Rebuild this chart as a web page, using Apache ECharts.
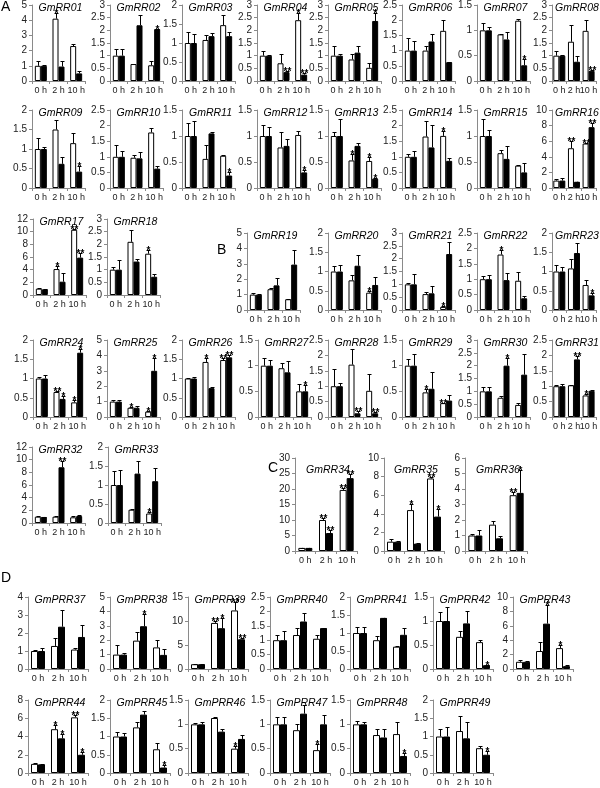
<!DOCTYPE html>
<html><head><meta charset="utf-8">
<script src="https://cdn.jsdelivr.net/npm/echarts@6/dist/echarts.min.js"></script>
<style>html,body{margin:0;padding:0;background:#fff}#c{width:600px;height:788px}</style>
</head><body><div id="c"></div>
<script>
const categories = ['0 h', '2 h', '10 h'];
const genes = ['GmRR01','GmRR02','GmRR03','GmRR04','GmRR05','GmRR06','GmRR07','GmRR08',
 'GmRR09','GmRR10','GmRR11','GmRR12','GmRR13','GmRR14','GmRR15','GmRR16',
 'GmRR17','GmRR18','GmRR19','GmRR20','GmRR21','GmRR22','GmRR23',
 'GmRR24','GmRR25','GmRR26','GmRR27','GmRR28','GmRR29','GmRR30','GmRR31',
 'GmRR32','GmRR33','GmRR34','GmRR35','GmRR36',
 'GmPRR37','GmPRR38','GmPRR39','GmPRR40','GmPRR41','GmPRR42','GmPRR43',
 'GmPRR44','GmPRR45','GmPRR46','GmPRR47','GmPRR48','GmPRR49'];
const yMax  = [5,3,2,3,3,2.5,1.5,3, 2,2.5,1.5,1.5,1.5,2.5,1.5,10, 12,3,5,2,3,2.5,2, 2,5,2,1.5,2.5,1.5,3,2.5, 12,2,30,10,6, 4,5,15,2.5,2,1.5,10, 8,2,1.5,1.5,1.5,2];
const yStep = [1,0.5,0.5,0.5,0.5,0.5,0.5,0.5, 0.5,0.5,0.5,0.5,0.5,0.5,0.5,2, 2,0.5,1,0.5,0.5,0.5,0.5, 0.5,1,0.5,0.5,0.5,0.5,0.5,0.5, 2,0.5,5,2,1, 1,1,5,0.5,0.5,0.5,2, 2,0.5,0.5,0.5,0.5,0.5];
const whiteMean = [
 [1,4.1,2.3],[1,0.67,0.62],[1,1.08,1.47],[1,0.7,2.4],[1,0.85,0.52],[1,1,1.65],[1,0.92,1.19],[1,1.55,1.98],
 [1,1.5,1.15],[1,0.97,1.78],[1,0.56,0.62],[1,0.78,1.02],[1,0.53,0.52],[1,1.65,1.67],[1,0.67,0.43],[0.95,5.1,5.7],
 [1,4.1,10.3],[1,2.1,1.63],[1,1.35,0.7],[1,0.77,0.45],[1,0.62,0.12],[1,1.8,0.95],[1,1.08,0.65],
 [1,0.65,0.38],[1,0.6,0.35],[1,1.43,1.48],[1,0.95,0.5],[1,1.7,0.85],[1,0.48,0.27],[1,0.75,0.47],[1,1.03,0.7],
 [1,1,0.9],[1,0.35,0.25],[1,10,19.7],[1,4.4,7.8],[1,1.7,3.6],
 [1,1.28,1.08],[1,1.97,1.5],[1,9.6,12.2],[1,1.18,1.05],[1,0.8,0.62],[1,0.67,0.56],[1,2.5,2.9],
 [1,4.8,6.1],[1,1.25,0.65],[1,1.13,0.5],[1,0.88,0.47],[1,0.78,0.8],[1,1.15,0.68]];
const whiteUpper = [
 [1.3,4.5,2.45],[1.25,0.67,0.8],[1.3,1.2,1.74],[1.17,1.07,2.7],[1.4,1.05,0.72],[1.42,1.15,2.0],[1.15,0.93,1.23],[1.17,2.2,2.4],
 [1.27,1.75,1.42],[1.37,1.05,1.92],[1.25,0.83,0.63],[1.21,1.08,1.1],[1.07,0.65,0.6],[1.1,2.15,1.82],[1.32,0.73,0.45],[1.1,6.0,5.8],
 [1.1,4.6,10.5],[1.1,2.55,1.77],[1.12,1.45,0.72],[1.15,0.9,0.5],[1.07,0.72,0.15],[1.1,1.95,1.25],[1.18,1.33,0.78],
 [1.03,0.68,0.45],[1.08,0.63,0.38],[1.02,1.52,1.52],[1.15,1.05,0.65],[1.57,2.2,1.4],[1.13,0.55,0.28],[1.15,0.82,0.55],[1.03,1.05,0.75],
 [1.1,1.1,1.1],[1.37,0.36,0.3],[1.1,10.5,20.2],[1.3,5.1,8.0],[1.08,1.95,3.8],
 [1.07,1.75,1.17],[1.68,2.55,2.02],[1.1,9.9,14],[1.18,1.43,1.17],[1.17,0.93,0.65],[1.18,0.8,0.6],[1.2,3.7,3.3],
 [1.05,5.3,6.4],[1.12,1.4,0.82],[1.03,1.15,0.55],[1.15,1.0,0.6],[1.07,0.9,1.05],[1.2,1.55,0.75]];
const blackMean = [
 [1,0.95,0.5],[1,2.2,2.05],[1,1.18,1.18],[1,0.35,0.25],[1,1.12,2.37],[1,1.3,0.62],[1,0.82,0.31],[1,0.76,0.4],
 [1,0.62,0.42],[1,0.95,0.62],[1,1.05,0.24],[1,0.81,0.3],[1,0.81,0.18],[1,1.3,0.87],[1,0.56,0.3],[0.95,0.8,7.8],
 [0.9,2.1,5.9],[1,1.32,0.72],[1,1.6,2.95],[1,1.15,0.65],[1,0.65,2.18],[1,0.97,0.38],[1,1.48,0.38],
 [1,0.47,1.67],[1,0.6,3.0],[1,0.75,1.55],[1,0.87,0.5],[1,0.12,0.12],[1,0.55,0.32],[1,2.0,1.65],[1,1.87,0.85],
 [0.95,8.8,1.1],[1,1.3,1.1],[1,5.8,23.5],[1,0.8,3.7],[1,0.82,3.75],
 [1,2.35,1.78],[1,2.97,0.98],[1,8.5,6.2],[1,1.65,1.42],[1,1.42,0.95],[1,0.95,0.08],[1,6.3,0.4],
 [0.95,3.8,2.0],[1,1.6,0.15],[1,0.85,0.7],[1,1.22,1.0],[1,0.73,0.35],[1,0.95,0.5]];
const blackUpper = [
 [1.02,1.3,0.65],[1.25,2.6,2.07],[1.25,1.27,1.3],[1.02,0.4,0.3],[1.08,1.4,2.68],[1.32,1.55,0.63],[1.06,0.97,0.43],[1.03,1.0,0.45],
 [1.05,0.8,0.57],[1.2,1.15,0.72],[1.28,1.08,0.3],[1.18,0.95,0.35],[1.32,0.86,0.19],[1.2,2.02,0.95],[1.12,0.8,0.48],[1.3,0.82,8.3],
 [0.95,3.5,6.7],[1.37,1.42,0.83],[1.05,2.05,3.9],[1.17,1.43,0.87],[1.42,0.95,2.65],[1.15,1.2,0.45],[1.12,1.75,0.45],
 [1.1,0.55,1.77],[1.1,0.72,3.85],[1.03,0.78,1.62],[1.12,1.1,0.62],[1.1,0.2,0.16],[1.22,0.88,0.43],[1.15,2.3,2.45],[1.07,1.98,0.87],
 [0.97,9.8,1.3],[1.4,1.63,1.45],[1.05,6.8,25],[1.05,0.82,4.5],[1.35,0.95,5.2],
 [1.17,3.3,2.42],[1.13,3.8,1.42],[1.05,10.7,6.5],[1.32,1.95,1.43],[1.17,1.43,1.13],[1.3,1.2,0.09],[1.05,8.9,0.6],
 [1.0,4.3,2.3],[1.1,1.7,0.22],[1.05,0.9,0.78],[1.15,1.4,1.2],[1.05,0.9,0.42],[1.25,1.4,0.6]];
const whiteSig = [
 ['','*',''],['','',''],['','',''],['','','*'],['','',''],['','',''],['','',''],['','',''],
 ['','',''],['','',''],['','',''],['','',''],['','*','*'],['','','*'],['','',''],['','**','**'],
 ['','*','**'],['','','*'],['','',''],['','','*'],['','','*'],['','*',''],['','',''],
 ['','**','*'],['','*','*'],['','*','**'],['','',''],['','',''],['','*','**'],['','',''],['','','*'],
 ['','',''],['','','*'],['','**','**'],['','*','**'],['','','**'],
 ['','',''],['','',''],['','**','**'],['','',''],['','',''],['','',''],['','','*'],
 ['','*','**'],['','',''],['','','*'],['','','*'],['','',''],['','','']];
const blackSig = [
 ['','',''],['','','*'],['','',''],['','**','**'],['','','*'],['','',''],['','','*'],['','','**'],
 ['','','*'],['','',''],['','','*'],['','','*'],['','','*'],['','',''],['','',''],['','','**'],
 ['','','**'],['','',''],['','',''],['','',''],['','',''],['','',''],['','','*'],
 ['','*','*'],['','','*'],['','','**'],['','','*'],['','**','**'],['','',''],['','*',''],['','**',''],
 ['','**',''],['','',''],['','**','**'],['','','*'],['','','*'],
 ['','',''],['','*',''],['','*','**'],['','',''],['','',''],['','','*'],['','*',''],
 ['','*','*'],['','','*'],['','',''],['','',''],['','','*'],['','','*']];

// ---- layout (positions only) ----
const rowSpecs = [
 {top:5,   h:76, lefts:[32,110,182,257,328,402,477,552], widths:[53,53,53,53,53,53,53,46], bw:6, tdy:3},
 {top:110, h:78, lefts:[32,110,182,257,328,402,477,552], widths:[53,53,53,53,53,53,53,46], bw:6, tdy:3},
 {top:219, h:76, lefts:[33,107], widths:[53,53], bw:6, tdy:3},
 {top:233, h:77, lefts:[247,328,402,477,552], widths:[53,53,53,53,46], bw:6, tdy:3},
 {top:340, h:77, lefts:[33,107,182,258,328,402,477,552], widths:[53,53,53,53,53,53,53,46], bw:6, tdy:3},
 {top:447, h:76, lefts:[32,108], widths:[53,53], bw:6, tdy:3},
 {top:458, h:93, lefts:[295,384,465], widths:[62,60,62], bw:7, tdy:12},
 {top:597, h:72, lefts:[28,110,188,270,350,433,513], widths:[60,60,60,60,60,60,60], bw:7, tdy:3},
 {top:700, h:73, lefts:[28,110,188,270,350,433], widths:[60,60,60,60,60,60], bw:7, tdy:3}
];
const panels = [];
rowSpecs.forEach(r => r.lefts.forEach((l, k) => panels.push({left:l, top:r.top, width:r.widths[k], height:r.h, bw:r.bw, tdy:r.tdy})));

const FONT = '"Liberation Sans", Arial, sans-serif';
const grids = [], xAxes = [], yAxes = [], series = [], graphics = [];

function makeErr(i, sigs, side, bw) {
  return function (params, api) {
    const cat = api.value(0), mean = api.value(1), up = api.value(2);
    const base = api.coord([cat, mean]);
    const top = api.coord([cat, up]);
    const x = Math.round(base[0] + side * bw / 2) + 0.5;
    const children = [];
    let yTop = base[1];
    if (up > mean + 1e-9) {
      const yt = Math.round(top[1]) + 0.5;
      children.push({type:'line', shape:{x1:x, y1:base[1], x2:x, y2:yt}, style:{stroke:'#000', lineWidth:1}});
      children.push({type:'line', shape:{x1:x-2, y1:yt, x2:x+2, y2:yt}, style:{stroke:'#000', lineWidth:1}});
      yTop = yt;
    }
    const s = sigs[params.dataIndex];
    if (s) {
      children.push({type:'text', style:{text:s, x:x, y:yTop + 6, textAlign:'center', textVerticalAlign:'bottom',
        font:'bold 10px ' + FONT, fill:'#000'}});
    }
    return {type:'group', children};
  };
}

panels.forEach((p, i) => {
  grids.push({left:p.left, top:p.top, width:p.width, height:p.height, containLabel:false});
  xAxes.push({type:'category', gridIndex:i, data:categories,
    axisLine:{show:true, lineStyle:{color:'#8a8a8a', width:1}},
    axisTick:{show:true, length:3, lineStyle:{color:'#8a8a8a'}},
    axisLabel:{interval:0, fontSize:9, color:'#222', margin:5, fontFamily:FONT, hideOverlap:false}});
  yAxes.push({type:'value', gridIndex:i, min:0, max:yMax[i], interval:yStep[i],
    axisLine:{show:true, lineStyle:{color:'#8a8a8a', width:1}},
    axisTick:{show:true, length:3, lineStyle:{color:'#8a8a8a'}},
    splitLine:{show:false},
    axisLabel:{fontSize:10, color:'#222', margin:5, fontFamily:FONT}});
  series.push({type:'bar', xAxisIndex:i, yAxisIndex:i, data:whiteMean[i], barWidth:p.bw, barGap:'0%',
    itemStyle:{color:'#fff', borderColor:'#000', borderWidth:1}, silent:true, animation:false});
  series.push({type:'bar', xAxisIndex:i, yAxisIndex:i, data:blackMean[i], barWidth:p.bw, barGap:'0%',
    itemStyle:{color:'#000', borderColor:'#000', borderWidth:1}, silent:true, animation:false});
  series.push({type:'custom', xAxisIndex:i, yAxisIndex:i, silent:true, animation:false, z:5,
    data:categories.map((c, k) => [k, whiteMean[i][k], whiteUpper[i][k]]),
    renderItem:makeErr(i, whiteSig[i], -1, p.bw)});
  series.push({type:'custom', xAxisIndex:i, yAxisIndex:i, silent:true, animation:false, z:5,
    data:categories.map((c, k) => [k, blackMean[i][k], blackUpper[i][k]]),
    renderItem:makeErr(i, blackSig[i], 1, p.bw)});
  graphics.push({type:'text', x:p.left + p.width/2 + 2, y:p.top + p.tdy, z:10,
    style:{text:genes[i], textAlign:'center', textVerticalAlign:'middle', font:'italic 10.5px ' + FONT, fill:'#000'}});
});

const letters = [['A',1,0],['B',217,243],['C',268,461],['D',1,571]];
letters.forEach(l => graphics.push({type:'text', x:l[1], y:l[2], style:{text:l[0], font:'14px ' + FONT, fill:'#000'}}));

const chart = echarts.init(document.getElementById('c'), null, {renderer:'canvas'});
chart.setOption({animation:false, backgroundColor:'#fff', grid:grids, xAxis:xAxes, yAxis:yAxes, series:series, graphic:graphics});
</script></body></html>
